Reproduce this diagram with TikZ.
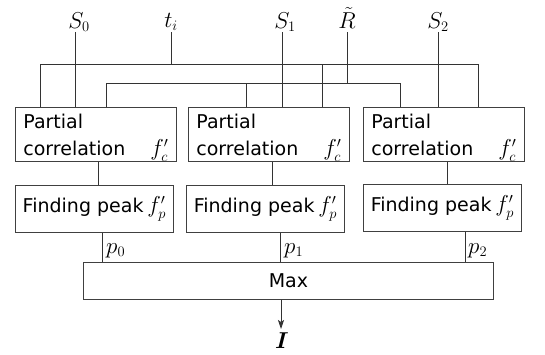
\RequirePackage{fix-cm}
\documentclass[tikz,border=0pt]{standalone}
\usepackage{amsmath}
\usepackage{fontspec}
\setmainfont{DejaVu Sans}
\DeclareMathSizes{19}{23}{14.5}{10.5}
\usetikzlibrary{arrows.meta}
\newcommand\diagfont{\fontsize{19}{27}\selectfont}

\begin{document}
\diagfont
\begin{tikzpicture}[x=1pt,y=-1pt,
  wire/.style={draw=black!80, line width=0.8pt},
  blk/.style={draw=black!75, line width=0.8pt, rectangle, inner sep=0pt},
  pcbox/.style={blk, anchor=north west, text width=145pt, inner xsep=8pt,
                inner ysep=0pt, text height=21pt, text depth=33pt, align=left},
  fpbox/.style={blk, anchor=north west, minimum width=158pt, minimum height=47pt},
  lbl/.style={inner sep=0pt},
  font=\diagfont]
\useasboundingbox (0,0) rectangle (545,354);

% input signals
\node[lbl, anchor=base] (s0) at (79,28) {$S_0$};
\node[lbl, anchor=base] (ti) at (171,27) {$t_i$};
\node[lbl, anchor=base] (s1) at (285,28) {$S_1$};
\node[lbl, anchor=base] (rt) at (347,28) {$\tilde{R}$};
\node[lbl, anchor=base] (s2) at (438,28) {$S_2$};

% partial correlation stage
\node[pcbox] (pc0) at (15,107) {Partial\\correlation\hfill$f'_c$\hspace*{4pt}};
\node[pcbox] (pc1) at (188,107) {Partial\\correlation\hfill$f'_c$\hspace*{1pt}};
\node[pcbox] (pc2) at (363,107) {Partial\\correlation\hfill$f'_c$\hspace*{5pt}};

% peak finding stage
\node[fpbox] (fp0) at (15,185) {Finding peak$\,f'_p$};
\node[fpbox] (fp1) at (186,185) {Finding peak$\,f'_p$};
\node[fpbox] (fp2) at (363,184) {Finding peak$\,f'_p$};

% maximum selection and output
\node[blk, anchor=north west, minimum width=410pt, minimum height=37pt] (mx) at (83,262) {Max};
\node[lbl] (out) at (282,341) {$\boldsymbol{I}$};

% bus junctions on the tops of the correlation boxes
\coordinate (a0) at (40,107);  \coordinate (a1) at (322,107); \coordinate (a2) at (478,107);
\coordinate (b0) at (106,107); \coordinate (b1) at (246,107); \coordinate (b2) at (400,107);
\coordinate (c0) at (75,107);  \coordinate (c1) at (282,107); \coordinate (c2) at (438,107);
\coordinate (tt) at (171,32);  \coordinate (rr) at (347,32);
\coordinate (top) at (0,32);   \coordinate (tb) at (0,64);    \coordinate (rb) at (0,83);

% t_i bus
\draw[wire] (tt) -- (tt |- tb);
\draw[wire] (a0) -- (a0 |- tb) -- (a2 |- tb) -- (a2);
\draw[wire] (a1 |- tb) -- (a1);

% R bus
\draw[wire] (rr) -- (rr |- rb);
\draw[wire] (b0) -- (b0 |- rb) -- (b2 |- rb) -- (b2);
\draw[wire] (b1 |- rb) -- (b1);

% signal lines
\draw[wire] (c0 |- top) -- (c0);
\draw[wire] (c1 |- top) -- (c1);
\draw[wire] (c2 |- top) -- (c2);

% correlation to peak finding
\draw[wire] (pc0.south -| 98,0) -- (fp0.north -| 98,0);
\draw[wire] (pc1.south -| 272,0) -- (fp1.north -| 272,0);
\draw[wire] (pc2.south -| 447,0) -- (fp2.north -| 447,0);

% peak outputs into Max
\coordinate (m0) at (102,262); \coordinate (m1) at (280,262); \coordinate (m2) at (465,262);
\draw[wire] (m0 |- fp0.south) -- (m0);
\draw[wire] (m1 |- fp1.south) -- (m1);
\draw[wire] (m2 |- fp2.south) -- (m2);
\node[lbl, anchor=south west] (p0) at (106,258) {$p_0$};
\node[lbl, anchor=south west] (p1) at (284,258) {$p_1$};
\node[lbl, anchor=south west] (p2) at (468,258) {$p_2$};

% output
\coordinate (tip) at (281,329);
\draw[wire, -{Stealth[length=9pt,width=6pt,inset=2pt]}] (tip |- mx.south) -- (tip);
\end{tikzpicture}
\end{document}
